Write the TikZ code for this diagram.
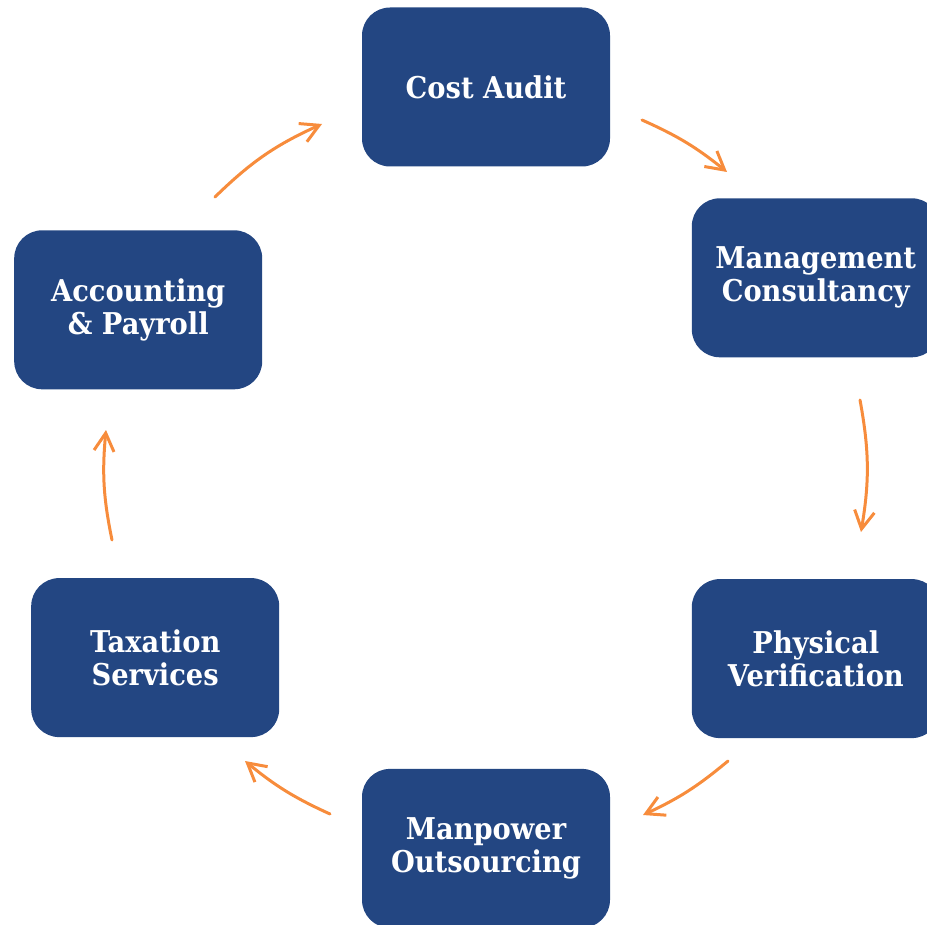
\documentclass[tikz,border=0pt]{standalone}
\usepackage{xcolor}
\usepackage{fontspec}
\newfontfamily\boxfont{DejaVu Serif}[FakeStretch=0.91]
\usepackage{tikz}
\usetikzlibrary{arrows.meta,positioning}
\definecolor{boxblue}{RGB}{35,70,130}
\definecolor{flowor}{RGB}{247,140,60}
\tikzset{
  every picture/.style = {
    x = 0.5pt,
    y = -0.5pt,
    node distance = 15.5pt and 40.5pt,
  }
  ,
  service/.style = {
    rectangle,
    rounded corners = 14pt,
    fill = boxblue,
    text = white,
    font = \boxfont\bfseries\fontsize{15}{16.5}\selectfont,
    align = center,
    minimum width = 124pt,
    minimum height = 79.5pt,
    inner sep = 0pt
  }
  , % orange arrows between the boxes
  flow/.style = {
    draw = flowor,
    line width = 1.5pt,
    line cap = round,
    -{Straight Barb[length=9pt, width=10pt]}
  }
}

\begin{document}
\begin{tikzpicture}
    \useasboundingbox (0,0) rectangle (927,925);
    \node [service] (cost) at (486,87) {Cost Audit};
    \node [service, below right = of cost] (mgmt) {Management\\Consultancy};
    \node [service, below = 110.5pt of mgmt] (phys) {Physical\\Verification};
    \node [service, below left = 15pt and 40.5pt of phys] (man) {Manpower\\Outsourcing};
    \node [service, above left = 15.5pt and 41pt of man] (tax) {Taxation\\Services};
    \node [service, above = 94pt of tax, xshift = -8.5pt] (acct) {Accounting\\\& Payroll};
    % ends of the arrows
    \coordinate (a1) at (215,197); \coordinate (b1) at (322,124);
    \coordinate (a2) at (642,120); \coordinate (b2) at (727,172);
    \coordinate (a3) at (860,400); \coordinate (b3) at (861,532);
    \coordinate (a4) at (728,761); \coordinate (b4) at (643,815);
    \coordinate (a5) at (330,814); \coordinate (b5) at (245,761);
    \coordinate (a6) at (112,540); \coordinate (b6) at (106,430);
    \draw [flow] (a1) to [bend left = 10] (b1);
    \draw [flow] (a2) to [bend left = 7.5] (b2);
    \draw [flow] (a3) to [bend left = 10] (b3);
    \draw [flow] (a4) to [bend left = 7.5] (b4);
    \draw [flow] (a5) to [bend left = 7.5] (b5);
    \draw [flow] (a6) to [bend left = 8.5] (b6);
\end{tikzpicture}
\end{document}
